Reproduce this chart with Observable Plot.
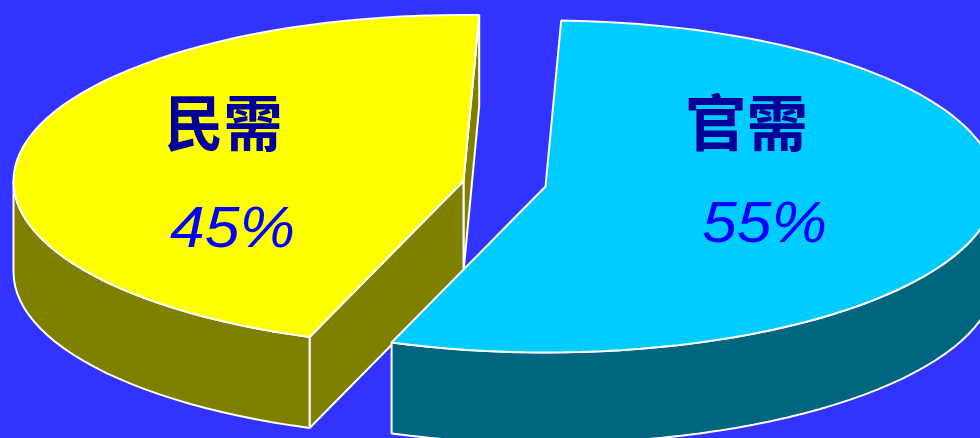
<!DOCTYPE html>
<html>
<head>
<meta charset="utf-8">
<script src="https://cdn.jsdelivr.net/npm/d3@7"></script>
<script src="https://cdn.jsdelivr.net/npm/@observablehq/plot@0.6"></script>
<style>html,body{margin:0;padding:0;background:#3333ff;overflow:hidden}svg{display:block}</style>
</head>
<body>
<div id="chart"></div>
<script>
const categories = ["民需", "官需"];
const shares = [45, 55];
const shareLabels = ["45%", "55%"];

const W = 980, H = 438, RX = 450, RY = 166, DEPTH = 91, START = 88;
const centers = [[463, 180.5], [545, 186]];
const topColors = ["#ffff00", "#00ccff"];
const wallColors = ["#808000", "#006680"];
const labelPos = [[223, 126], [746, 126]];
const labelWidths = [118, 123];
const pctPos = [[232, 228], [764, 223]];

const at = (c, t, d = 0) => {
  const r = t * Math.PI / 180;
  return [c[0] + RX * Math.cos(r), c[1] - RY * Math.sin(r) + d];
};
const arc = (c, a, b, d = 0) => {
  const n = Math.max(2, Math.ceil(Math.abs(b - a) / 2.5));
  return d3.range(n + 1).map(i => at(c, a + (b - a) * i / n, d));
};
const close = p => p.concat([p[0]]);
const wall = (c, a, b) => close(arc(c, a, b).concat(arc(c, b, a, DEPTH)));
const plane = (c, t) => close([c, at(c, t), at(c, t, DEPTH), [c[0], c[1] + DEPTH]]);

const end0 = START + shares[0] * 3.6;
const end1 = START - shares[1] * 3.6;
const faces = [
  {p: plane(centers[0], START), f: wallColors[0]},
  {p: plane(centers[0], end0), f: wallColors[0]},
  {p: wall(centers[0], 180, end0), f: wallColors[0]},
  {p: close([centers[0], ...arc(centers[0], START, end0)]), f: topColors[0]},
  {p: wall(centers[1], end1, 0), f: wallColors[1]},
  {p: close([centers[1], ...arc(centers[1], START, end1)]), f: topColors[1]}
];

const chart = Plot.plot({
  width: W, height: H, margin: 0,
  x: {domain: [0, W], range: [0, W], axis: null},
  y: {domain: [0, H], range: [0, H], axis: null},
  style: {background: "#3333ff"},
  marks: [
    ...faces.map(s => Plot.line(s.p, {
      x: d => d[0], y: d => d[1], fill: s.f, stroke: "#ffffff",
      strokeWidth: 2, strokeLinejoin: "miter", curve: "linear"
    })),
    Plot.text(categories, {
      x: (d, i) => labelPos[i][0], y: (d, i) => labelPos[i][1], text: d => d,
      className: "cat",
      fontFamily: "'Noto Sans CJK TC'", fontWeight: "bold", fontSize: 61, fill: "#000099"
    }),
    Plot.text(shareLabels, {
      x: (d, i) => pctPos[i][0], y: (d, i) => pctPos[i][1], text: d => d,
      className: "pct",
      fontFamily: "'Liberation Sans'", fontStyle: "italic", fontSize: 57, fill: "#0000ff"
    })
  ]
});
d3.select(chart).selectAll(".pct text").attr("textLength", 125).attr("lengthAdjust", "spacingAndGlyphs");
d3.select(chart).selectAll(".cat text").each(function (d, i) {
  d3.select(this).attr("textLength", labelWidths[i]).attr("lengthAdjust", "spacingAndGlyphs");
});
document.getElementById("chart").append(chart);
</script>
</body>
</html>
